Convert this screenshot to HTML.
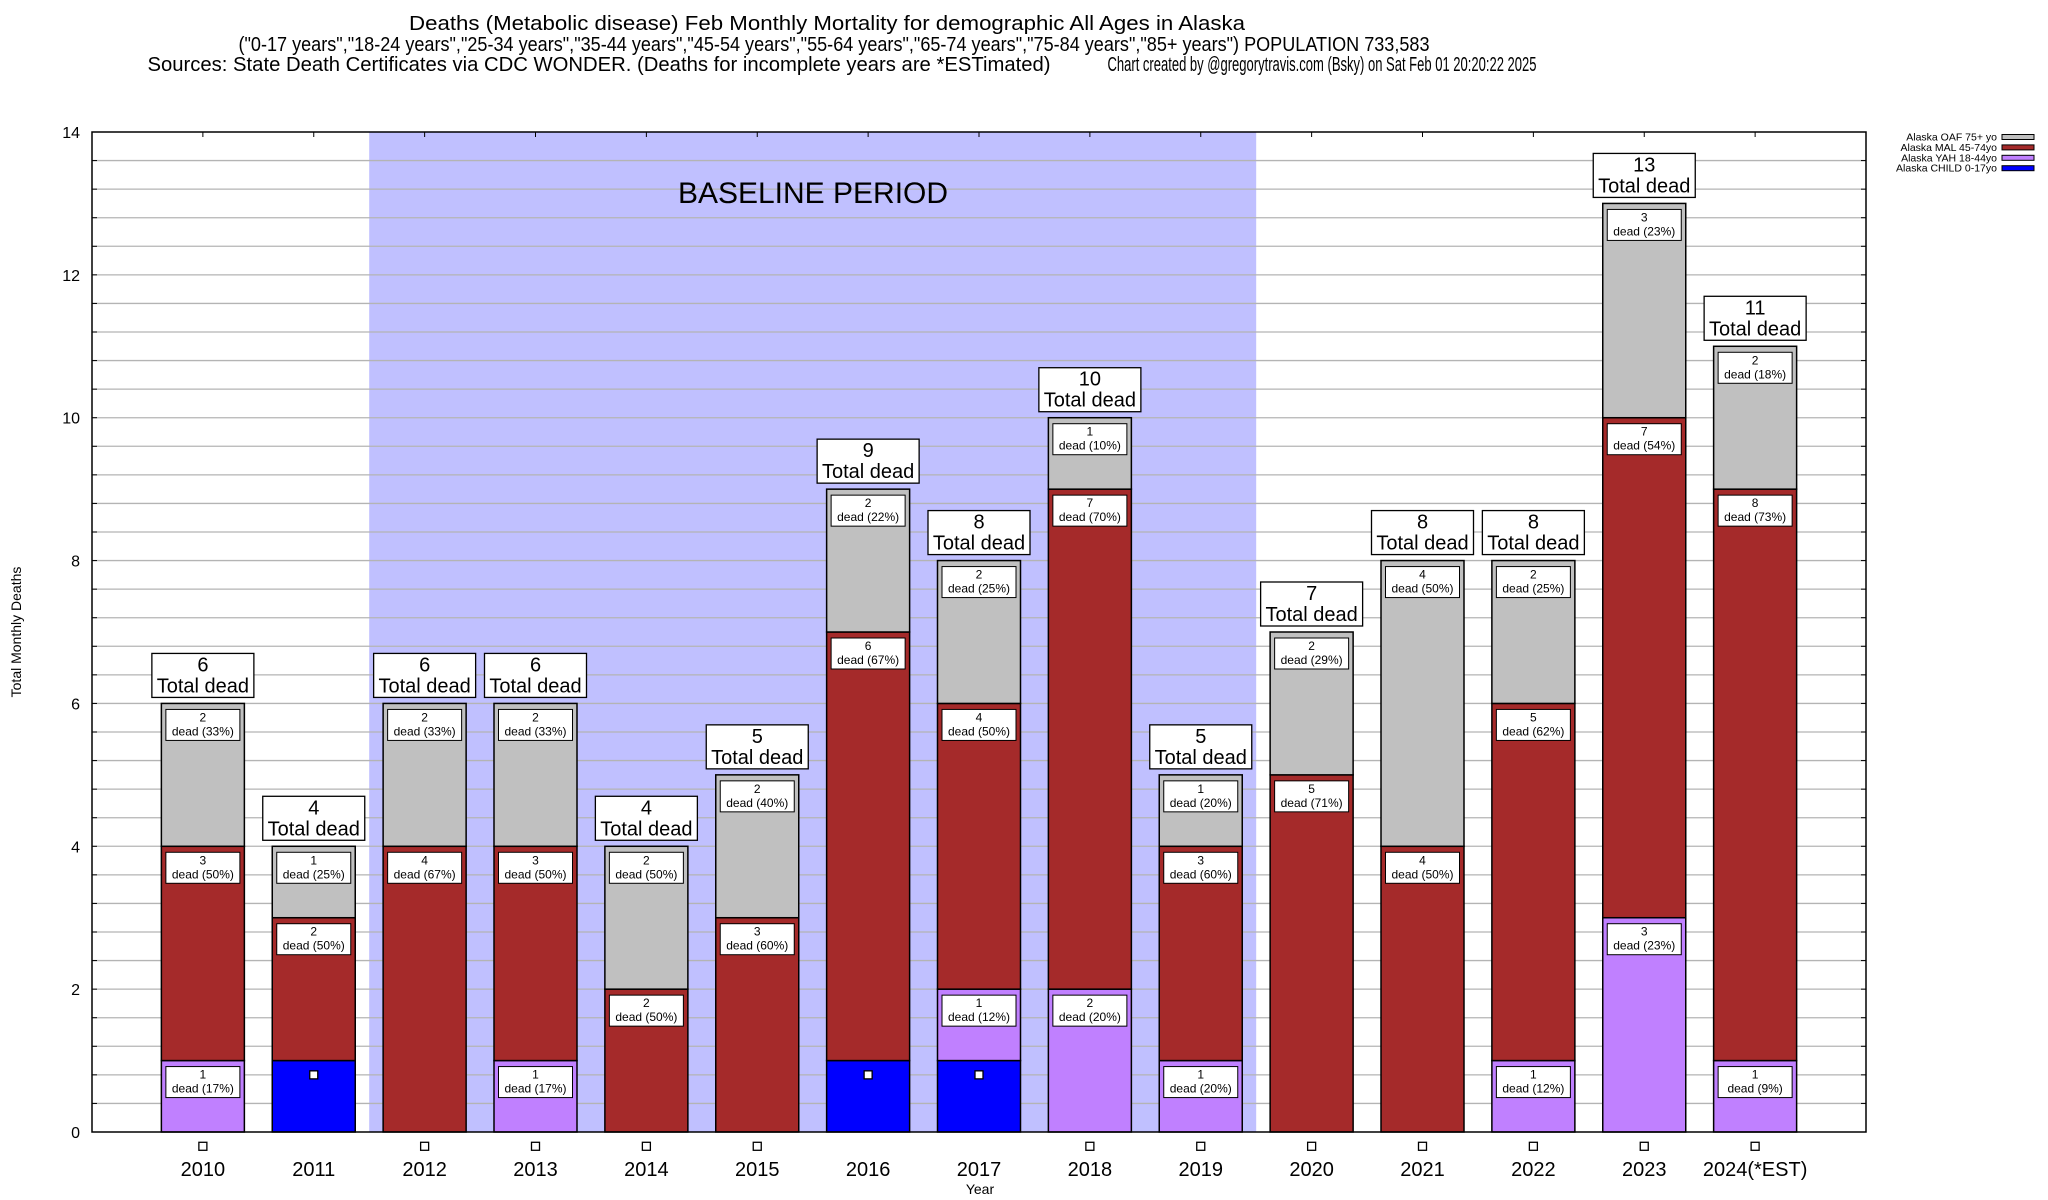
<!DOCTYPE html>
<html><head><meta charset="utf-8"><style>
html,body{margin:0;padding:0;background:#fff;}
svg{display:block;font-family:"Liberation Sans",Arial,sans-serif;}
</style></head><body>
<svg id="chart" width="2048" height="1200" viewBox="0 0 2048 1200" xmlns="http://www.w3.org/2000/svg">
<g font-size="20" text-anchor="middle" fill="#000">
<text x="827" y="30" textLength="836" lengthAdjust="spacingAndGlyphs">Deaths (Metabolic disease) Feb Monthly Mortality for demographic All Ages in Alaska</text>
<text x="834" y="51" textLength="1191" lengthAdjust="spacingAndGlyphs">("0-17 years","18-24 years","25-34 years","35-44 years","45-54 years","55-64 years","65-74 years","75-84 years","85+ years") POPULATION 733,583</text>
<text x="599" y="71" textLength="903" lengthAdjust="spacingAndGlyphs">Sources: State Death Certificates via CDC WONDER. (Deaths for incomplete years are *ESTimated)</text>
<text x="1322" y="71" textLength="429" lengthAdjust="spacingAndGlyphs">Chart created by @gregorytravis.com (Bsky) on Sat Feb 01 20:20:22 2025</text>
</g>
<g id="plot"></g>
<text x="21" y="632" font-size="14" text-anchor="middle" transform="rotate(-90 21 632)">Total Monthly Deaths</text>
<text x="980" y="1194" font-size="14" text-anchor="middle">Year</text>
<g id="legend" font-size="10.5" text-anchor="end"></g>
</svg>
<script>
const years = ["2010","2011","2012","2013","2014","2015","2016","2017","2018","2019","2020","2021","2022","2023","2024(*EST)"];
const child = [0,1,0,0,0,0,1,1,0,0,0,0,0,0,0];
const yah   = [1,0,0,1,0,0,0,1,2,1,0,0,1,3,1];
const mal   = [3,2,4,3,2,3,6,4,7,3,5,4,5,7,8];
const oaf   = [2,1,2,2,2,2,2,2,1,1,2,4,2,3,2];
const yTicks = [0,2,4,6,8,10,12,14];
const baselineStart = 2, baselineEnd = 9;
const seriesNames = ["Alaska OAF 75+ yo","Alaska MAL 45-74yo","Alaska YAH 18-44yo","Alaska CHILD 0-17yo"];
const seriesKeys = ["oaf","mal","yah","child"];

const NS="http://www.w3.org/2000/svg";
const L=92,R=1866,T=132,B=1132,yMax=14;
const xs=i=>L+(i+1)*(R-L)/16;
const ys=v=>B-v*(B-T)/yMax;
const bw=83;
const plot=document.getElementById('plot');
function mk(tag,attrs,parent,text){const e=document.createElementNS(NS,tag);for(const k in attrs)e.setAttribute(k,attrs[k]);if(text!==undefined)e.textContent=text;(parent||plot).appendChild(e);return e;}
const colors={oaf:"#c0c0c0",mal:"#a52a2a",yah:"#c080ff",child:"#0000ff"};
const data={child,yah,mal,oaf};

let e=mk('rect',{x:L,y:T,width:R-L,height:B-T,fill:"#fff"});


e=mk('rect',{x:xs(baselineStart-0.5),y:T,width:xs(baselineEnd+0.5)-xs(baselineStart-0.5),height:B-T,fill:"#c0c0ff"});


for(let v=0.4;v<yMax-0.01;v+=0.4){
  e=mk('line',{x1:L,x2:R,y1:ys(v),y2:ys(v),stroke:"#b4b4b4","stroke-width":1.3});
  
  
  mk('line',{x1:L,x2:L+5,y1:ys(v),y2:ys(v),stroke:"#000"});
  mk('line',{x1:R-5,x2:R,y1:ys(v),y2:ys(v),stroke:"#000"});
}
e=mk('text',{x:813,y:203,"font-size":30,"text-anchor":"middle"},plot,"BASELINE PERIOD");


yTicks.forEach(v=>{
  e=mk('text',{x:80,y:ys(v)+6,"font-size":16,"text-anchor":"end"},plot,String(v));
  
  
});
function pct(v,t){const x=v*100/t;const f=Math.floor(x);if(Math.abs(x-f-0.5)<1e-9)return f%2===0?f:f+1;return Math.round(x);}
years.forEach((yr,i)=>{
  const cx=xs(i);
  const total=child[i]+yah[i]+mal[i]+oaf[i];
  let base=0;
  ["child","yah","mal","oaf"].forEach(k=>{
    const v=data[k][i];
    if(v>0){
      e=mk('rect',{x:cx-bw/2,y:ys(base+v),width:bw,height:ys(base)-ys(base+v),fill:colors[k],stroke:"#000","stroke-width":1.5});
      
      
      if(k!=="child"){
        const ty=ys(base+v)+6;
        e=mk('rect',{x:cx-37,y:ty,width:74,height:31,fill:"#fff",stroke:"#000","stroke-width":1});
        
        
        e=mk('text',{x:cx,y:ty+12,"font-size":12,"text-anchor":"middle"},plot,String(v));
        
        
        e=mk('text',{x:cx,y:ty+26,"font-size":12,"text-anchor":"middle"},plot,"dead ("+pct(v,total)+"%)");
        
        
      }
    }
    base+=v;
  });
  const my=ys(child[i]-0.2);
  e=mk('rect',{x:cx-4,y:my-4,width:8,height:8,fill:"#fff",stroke:"#000","stroke-width":1.3});
  
  
  const by=ys(total)-6;
  e=mk('rect',{x:cx-51,y:by-44,width:102,height:44,fill:"#fff",stroke:"#000","stroke-width":1.3});
  
  
  e=mk('text',{x:cx,y:by-26,"font-size":20,"text-anchor":"middle"},plot,String(total));
  
  
  e=mk('text',{x:cx,y:by-5,"font-size":20,"text-anchor":"middle"},plot,"Total dead");
  
  
  mk('line',{x1:cx,x2:cx,y1:T,y2:T+5,stroke:"#000"});
  e=mk('text',{x:cx,y:1176,"font-size":20,"text-anchor":"middle"},plot,yr);
  
  
});
e=mk('rect',{x:L,y:T,width:R-L,height:B-T,fill:"none",stroke:"#000","stroke-width":1.5});


const lg=document.getElementById('legend');
seriesNames.forEach((n,j)=>{
  const y=137+j*10.4;
  e=mk('text',{x:1997,y:y+3.5},lg,n);
  
  
  e=mk('rect',{x:2002,y:y-2.5,width:32,height:5,fill:colors[seriesKeys[j]],stroke:"#000","stroke-width":1});
  
  
});
</script>
</body></html>
